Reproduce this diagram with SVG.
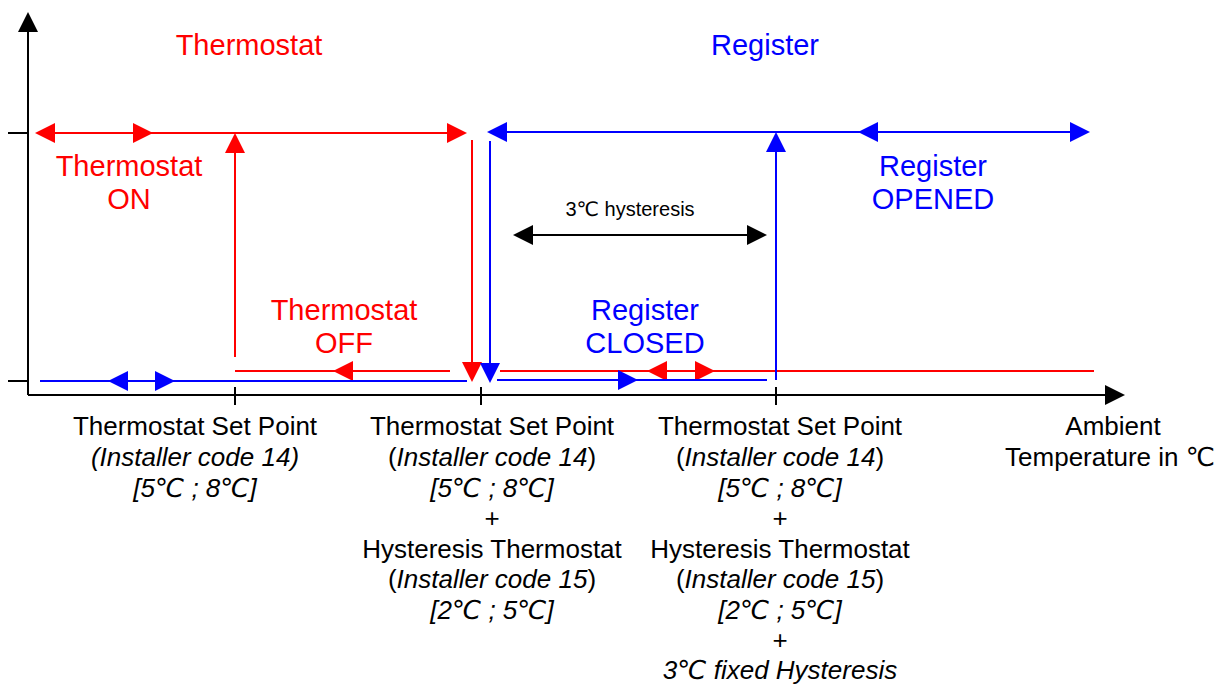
<svg xmlns="http://www.w3.org/2000/svg" xmlns:xlink="http://www.w3.org/1999/xlink" width="1229" height="684" viewBox="0 0 1229 684">
  <style>
    .t { font-family: "Liberation Sans", Arial, "DejaVu Sans", sans-serif; text-anchor: middle; }
    .big { font-size: 29px; }
    .lab { font-size: 26px; fill: #000; }
    .small { font-size: 20px; fill: #000; }
    .red { fill: #FF0000; }
    .blue { fill: #0000FF; }
    .i { font-style: italic; }
    .lr { stroke: #FF0000; stroke-width: 2; fill: none; }
    .lb { stroke: #0000FF; stroke-width: 2; fill: none; }
    .lk { stroke: #000; stroke-width: 2; fill: none; }
    .ar { fill: #FF0000; }
    .ab { fill: #0000FF; }
    .ak { fill: #000; }
  </style>
  <defs>
    <path id="ah" d="M0,0 L-20,-10 L-20,10 Z"/>
  </defs>
  <rect width="1229" height="684" fill="#fff"/>

  <g id="axes">
    <path class="lk" d="M28,395 V28 M28,395 H1110 M8,133 H28 M8,381 H28 M235,387 V405 M481,387 V405 M776,387 V405"/>
    <use href="#ah" class="ak" transform="translate(28,12) rotate(-90)"/>
    <use href="#ah" class="ak" transform="translate(1125,395)"/>
  </g>

  <g id="connectors">
    <g id="thermostat-lines">
      <path class="lr" d="M40,133 H450 M235,357 V150 M235,371 H450 M472,140 V365"/>
      <path class="lr" stroke-width="1.6" d="M500,371 H1094"/>
      <use href="#ah" class="ar" transform="translate(35,133) rotate(180)"/>
      <use href="#ah" class="ar" transform="translate(153,133)"/>
      <use href="#ah" class="ar" transform="translate(467,133)"/>
      <use href="#ah" class="ar" transform="translate(235,133) rotate(-90)"/>
      <use href="#ah" class="ar" transform="translate(333,371) rotate(180)"/>
      <use href="#ah" class="ar" transform="translate(472,382) rotate(90)"/>
      <use href="#ah" class="ar" transform="translate(647,371) rotate(180)"/>
      <use href="#ah" class="ar" transform="translate(715,371)"/>
    </g>
    <g id="register-lines">
      <path class="lb" d="M40,381 H467 M497,380 H767 M490,141 V366 M776,380 V150 M492,132 H1075"/>
      <use href="#ah" class="ab" transform="translate(108,381) rotate(180)"/>
      <use href="#ah" class="ab" transform="translate(175,381)"/>
      <use href="#ah" class="ab" transform="translate(490,383) rotate(90)"/>
      <use href="#ah" class="ab" transform="translate(638,380)"/>
      <use href="#ah" class="ab" transform="translate(776,132) rotate(-90)"/>
      <use href="#ah" class="ab" transform="translate(487,132) rotate(180)"/>
      <use href="#ah" class="ab" transform="translate(858,132) rotate(180)"/>
      <use href="#ah" class="ab" transform="translate(1090,132)"/>
    </g>
    <g id="hysteresis-arrow">
      <path class="lk" stroke-width="2.5" d="M520,235 H760"/>
      <use href="#ah" class="ak" transform="translate(513,235) rotate(180)"/>
      <use href="#ah" class="ak" transform="translate(767,235)"/>
    </g>
  </g>

  <g id="title-thermostat"><text class="t big red" x="249" y="55">Thermostat</text></g>
  <g id="title-register"><text class="t big blue" x="765" y="55">Register</text></g>

  <g id="thermostat-on">
    <text class="t big red" x="129" y="176">Thermostat</text>
    <text class="t big red" x="129" y="209">ON</text>
  </g>
  <g id="register-opened">
    <text class="t big blue" x="933" y="176">Register</text>
    <text class="t big blue" x="933" y="209">OPENED</text>
  </g>
  <g id="thermostat-off">
    <text class="t big red" x="344" y="320">Thermostat</text>
    <text class="t big red" x="344" y="353">OFF</text>
  </g>
  <g id="register-closed">
    <text class="t big blue" x="645" y="320">Register</text>
    <text class="t big blue" x="645" y="353">CLOSED</text>
  </g>
  <g id="hysteresis-label">
    <text class="t small" x="630" y="216">3℃ hysteresis</text>
  </g>

  <g id="label-setpoint">
    <text class="t lab" x="195" y="435">Thermostat Set Point</text>
    <text class="t lab i" x="195" y="466">(Installer code 14)</text>
    <text class="t lab i" x="195" y="497">[5℃ ; 8℃]</text>
  </g>
  <g id="label-setpoint-hyst">
    <text class="t lab" x="492" y="435">Thermostat Set Point</text>
    <text class="t lab" x="492" y="466">(<tspan class="i">Installer code 14</tspan>)</text>
    <text class="t lab i" x="492" y="497">[5℃ ; 8℃]</text>
    <text class="t lab" x="492" y="527">+</text>
    <text class="t lab" x="492" y="558">Hysteresis Thermostat</text>
    <text class="t lab" x="492" y="588">(<tspan class="i">Installer code 15</tspan>)</text>
    <text class="t lab i" x="492" y="619">[2℃ ; 5℃]</text>
  </g>
  <g id="label-setpoint-hyst-fixed">
    <text class="t lab" x="780" y="435">Thermostat Set Point</text>
    <text class="t lab" x="780" y="466">(<tspan class="i">Installer code 14</tspan>)</text>
    <text class="t lab i" x="780" y="497">[5℃ ; 8℃]</text>
    <text class="t lab" x="780" y="527">+</text>
    <text class="t lab" x="780" y="558">Hysteresis Thermostat</text>
    <text class="t lab" x="780" y="588">(<tspan class="i">Installer code 15</tspan>)</text>
    <text class="t lab i" x="780" y="619">[2℃ ; 5℃]</text>
    <text class="t lab" x="780" y="649">+</text>
    <text class="t lab i" x="780" y="679">3℃ fixed Hysteresis</text>
  </g>
  <g id="label-ambient">
    <text class="t lab" x="1113" y="435">Ambient</text>
    <text class="t lab" x="1110" y="466">Temperature in ℃</text>
  </g>
</svg>
